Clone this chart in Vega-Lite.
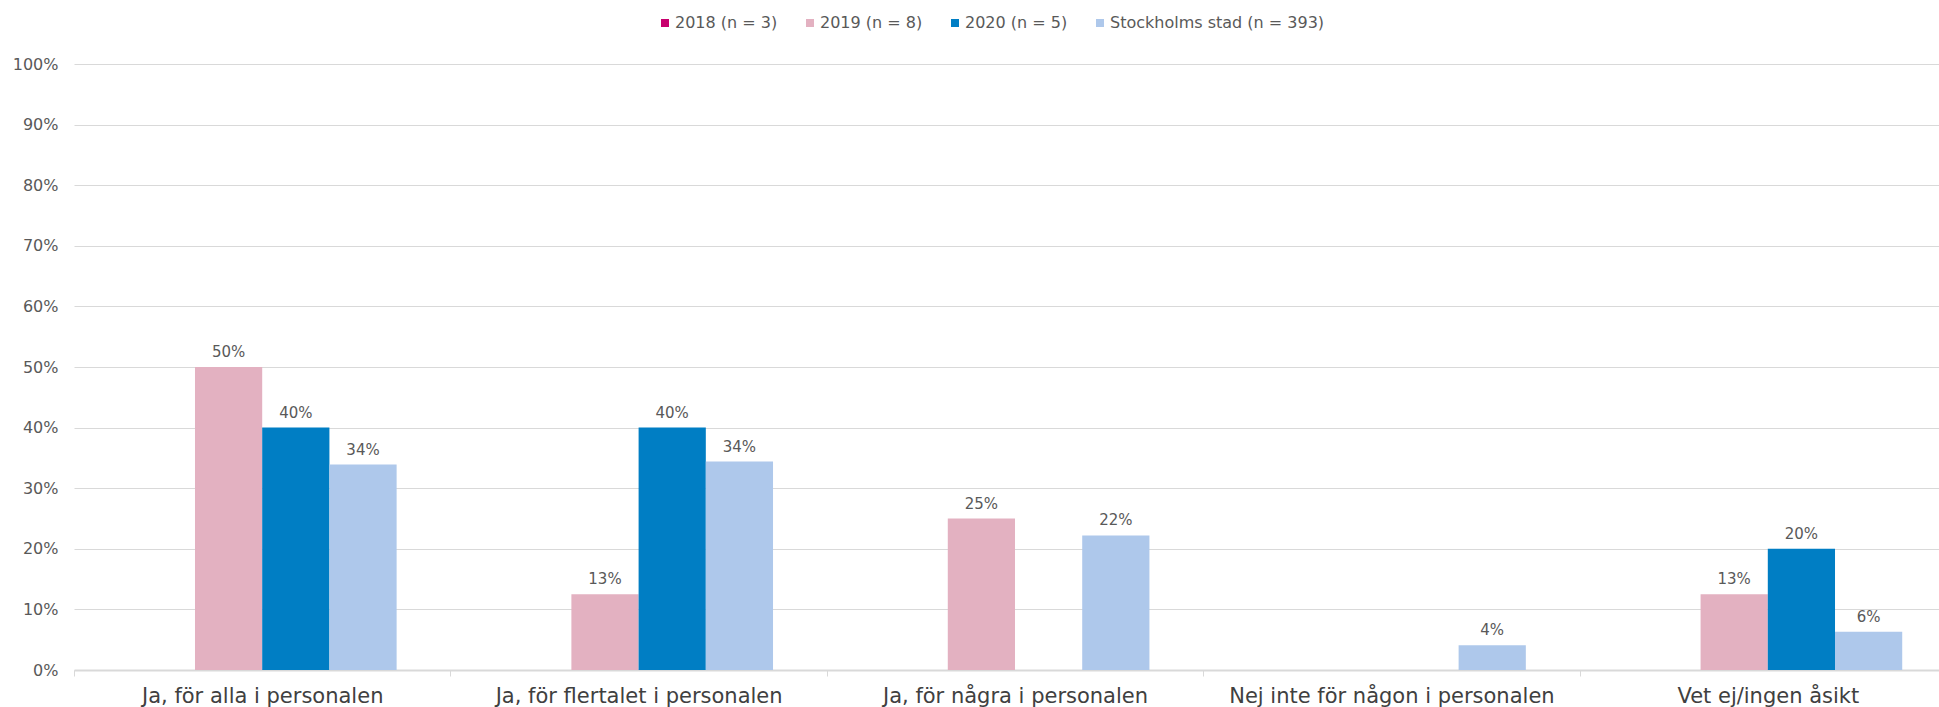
{
  "$schema": "https://vega.github.io/schema/vega-lite/v6.json",
  "width": 1865,
  "height": 606,
  "autosize": {"type": "none"},
  "padding": {"left": 74, "top": 64, "right": 0, "bottom": 37},
  "background": "white",
  "config": {
    "view": {"stroke": null},
    "font": "DejaVu Sans"
  },
  "data": {
    "values": [
      {"kategori": "Ja, för alla i personalen", "grupp": "2019 (n = 8)", "andel": 0.50},
      {"kategori": "Ja, för alla i personalen", "grupp": "2020 (n = 5)", "andel": 0.40},
      {"kategori": "Ja, för alla i personalen", "grupp": "Stockholms stad (n = 393)", "andel": 0.339},
      {"kategori": "Ja, för flertalet i personalen", "grupp": "2019 (n = 8)", "andel": 0.125},
      {"kategori": "Ja, för flertalet i personalen", "grupp": "2020 (n = 5)", "andel": 0.40},
      {"kategori": "Ja, för flertalet i personalen", "grupp": "Stockholms stad (n = 393)", "andel": 0.344},
      {"kategori": "Ja, för några i personalen", "grupp": "2019 (n = 8)", "andel": 0.25},
      {"kategori": "Ja, för några i personalen", "grupp": "Stockholms stad (n = 393)", "andel": 0.222},
      {"kategori": "Nej inte för någon i personalen", "grupp": "Stockholms stad (n = 393)", "andel": 0.041},
      {"kategori": "Vet ej/ingen åsikt", "grupp": "2019 (n = 8)", "andel": 0.125},
      {"kategori": "Vet ej/ingen åsikt", "grupp": "2020 (n = 5)", "andel": 0.20},
      {"kategori": "Vet ej/ingen åsikt", "grupp": "Stockholms stad (n = 393)", "andel": 0.063}
    ]
  },
  "encoding": {
    "x": {
      "field": "kategori",
      "type": "nominal",
      "sort": null,
      "scale": {"range": [0, 1882], "paddingInner": 0, "paddingOuter": 0},
      "axis": {
        "title": null,
        "labelAngle": 0,
        "labelFontSize": 21,
        "labelColor": "#404040",
        "labelPadding": 9,
        "labelLimit": 0,
        "domainColor": "#d9d9d9",
        "domainWidth": 2,
        "tickColor": "#d9d9d9",
        "tickSize": 6,
        "tickBand": "extent",
        "grid": false
      }
    },
    "xOffset": {
      "field": "grupp",
      "type": "nominal",
      "scale": {
        "domain": ["2018 (n = 3)", "2019 (n = 8)", "2020 (n = 5)", "Stockholms stad (n = 393)"],
        "paddingInner": 0,
        "paddingOuter": 0.8
      }
    },
    "y": {
      "field": "andel",
      "type": "quantitative",
      "scale": {"domain": [0, 1]},
      "axis": {
        "title": null,
        "values": [0, 0.1, 0.2, 0.3, 0.4, 0.5, 0.6, 0.7, 0.8, 0.9, 1],
        "format": ".0%",
        "labelFontSize": 16,
        "labelColor": "#595959",
        "labelPadding": 16,
        "domain": false,
        "ticks": false,
        "gridColor": "#d9d9d9",
        "gridWidth": 1
      }
    }
  },
  "layer": [
    {
      "mark": {"type": "bar"},
      "encoding": {
        "color": {
          "field": "grupp",
          "type": "nominal",
          "scale": {
            "domain": ["2018 (n = 3)", "2019 (n = 8)", "2020 (n = 5)", "Stockholms stad (n = 393)"],
            "range": ["#c8006e", "#e3b1c1", "#007ec4", "#aec8eb"]
          },
          "legend": {
            "title": null,
            "orient": "none",
            "direction": "horizontal",
            "legendX": 583,
            "legendY": -49,
            "symbolType": "square",
            "symbolSize": 64,
            "symbolStrokeWidth": 0,
            "labelFontSize": 16,
            "labelColor": "#595959",
            "labelOffset": 2,
            "labelLimit": 0,
            "columnPadding": 24,
            "padding": 0
          }
        }
      }
    },
    {
      "mark": {"type": "text", "dy": -10, "baseline": "alphabetic", "fontSize": 15, "color": "#595959"},
      "encoding": {
        "text": {"field": "andel", "type": "quantitative", "format": ".0%"}
      }
    }
  ]
}
